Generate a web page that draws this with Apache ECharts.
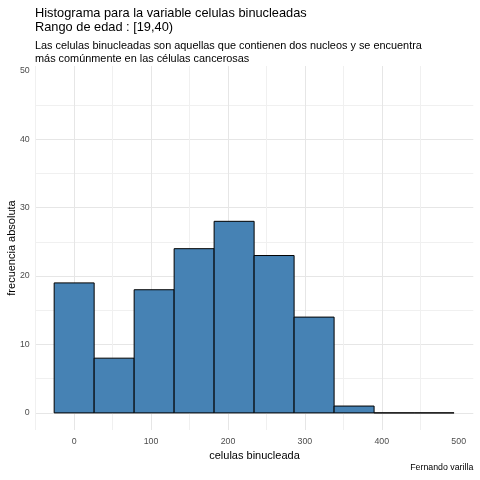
<!DOCTYPE html>
<html>
<head>
<meta charset="utf-8">
<script src="https://cdn.jsdelivr.net/npm/echarts@6/dist/echarts.min.js"></script>
<style>
html,body{margin:0;padding:0;background:#fff;}
#main{width:480px;height:480px;}
</style>
</head>
<body>
<div id="main"></div>
<script>
/*datos del histograma*/
var binEdges = [-26, 26, 78, 130, 182, 234, 286, 338, 390, 442, 494];
var counts = [19, 8, 18, 24, 28, 23, 14, 1, 0, 0];
var xTicks = [0, 100, 200, 300, 400, 500];
var xGrid = [-50, 0, 50, 100, 150, 200, 250, 300, 350, 400, 450, 500];
var yTicks = [0, 10, 20, 30, 40, 50];
var yGrid = [0, 5, 10, 15, 20, 25, 30, 35, 40, 45, 50];

var fuente = "'Liberation Sans', Arial, sans-serif";
var bars = [];
for (var i = 0; i < counts.length; i++) {
	bars.push([binEdges[i], binEdges[i + 1], counts[i]]);
}

/*dibujar cada barra*/
function renderItem(params, api){
	var p0 = api.coord([api.value(0), api.value(2)]);
	var p1 = api.coord([api.value(1), 0]);
	return {
		type: 'rect',
		shape: {x: p0[0], y: p0[1], width: p1[0] - p0[0], height: p1[1] - p0[1]},
		style: {fill: '#4682b4', stroke: '#000000', lineWidth: 1}
	};
}

var myChart = echarts.init(document.getElementById('main'));
var option = {
	backgroundColor: '#ffffff',
	animation: false,
	title: [
		{
			text: 'Histograma para la variable celulas binucleadas\nRango de edad : [19,40)',
			left: 35, top: 6.5, padding: 0,
			textStyle: {fontFamily: fuente, fontSize: 12.8, fontWeight: 'normal', color: '#000', lineHeight: 13.8}
		},
		{
			text: 'Las celulas binucleadas son aquellas que contienen dos nucleos y se encuentra\nmás comúnmente en las células cancerosas',
			left: 35, top: 40, padding: 0,
			textStyle: {fontFamily: fuente, fontSize: 10.9, fontWeight: 'normal', color: '#000', lineHeight: 12.6}
		},
		{
			text: 'Fernando varilla',
			right: 6.7, top: 463, padding: 0,
			textStyle: {fontFamily: fuente, fontSize: 8.8, fontWeight: 'normal', color: '#000'}
		}
	],
	grid: {left: 35.7, right: 6.7, top: 66, bottom: 50, containLabel: false, outerBoundsMode: 'none'},
	xAxis: {
		type: 'value',
		min: -50, max: 519,
		name: 'celulas binucleada',
		nameLocation: 'middle',
		nameGap: 20,
		nameMoveOverlap: false,
		nameTextStyle: {fontFamily: fuente, fontSize: 11, color: '#000'},
		axisLine: {show: false},
		axisTick: {show: false, customValues: xGrid},
		axisLabel: {customValues: xTicks, margin: 7, fontFamily: fuente, fontSize: 8.8, color: '#4d4d4d'},
		splitLine: {show: true, showMinLine: true, showMaxLine: false, lineStyle: {color: ['#f0f0f0', '#e6e6e6'], width: 1}}
	},
	yAxis: {
		type: 'value',
		min: -2.5, max: 50.7,
		name: 'frecuencia absoluta',
		nameLocation: 'middle',
		nameGap: 18,
		nameMoveOverlap: false,
		nameTextStyle: {fontFamily: fuente, fontSize: 11, color: '#000'},
		axisLine: {show: false},
		axisTick: {show: false, customValues: yGrid},
		axisLabel: {customValues: yTicks, margin: 6, fontFamily: fuente, fontSize: 8.8, color: '#4d4d4d'},
		splitLine: {show: true, showMinLine: true, showMaxLine: false, lineStyle: {color: ['#e6e6e6', '#f0f0f0'], width: 1}}
	},
	series: [
		{
			type: 'custom',
			renderItem: renderItem,
			encode: {x: [0, 1], y: 2},
			data: bars
		}
	]
};
myChart.setOption(option);
</script>
</body>
</html>
